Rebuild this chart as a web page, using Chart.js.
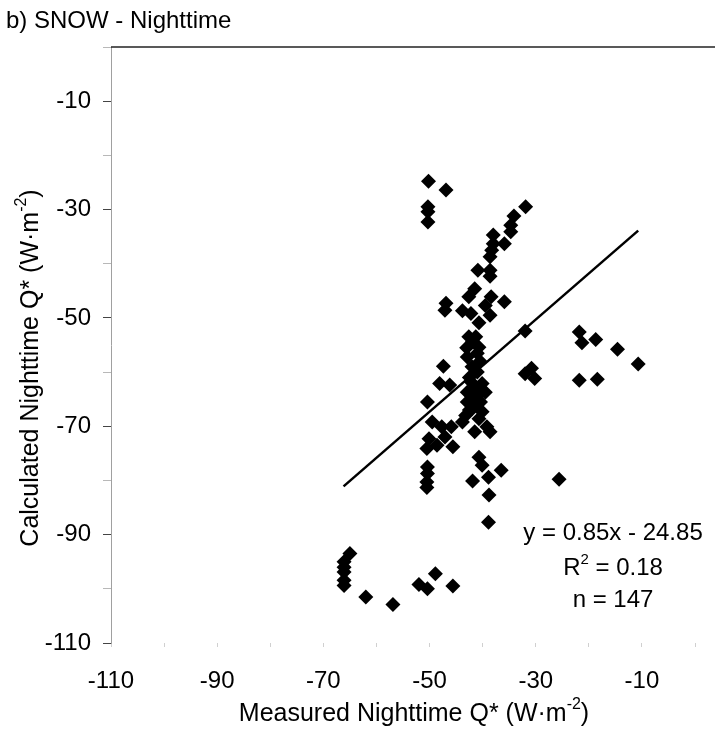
<!DOCTYPE html>
<html>
<head>
<meta charset="utf-8">
<script src="https://cdn.jsdelivr.net/npm/chart.js@4.4.1/dist/chart.umd.min.js"></script>
<style>
  html, body { margin: 0; padding: 0; background: #fff; }
  #wrap { width: 715px; height: 739px; }
</style>
</head>
<body>
<div id="wrap"><canvas id="chart" width="715" height="739"></canvas></div>
<script>
// Measured (x) vs calculated (y) nighttime Q*, W/m2
const measuredX = [
  -50.2, -46.9, -50.3, -50.3, -50.3, -31.9, -34.1, -34.7, -34.7, -38.0,
  -35.9, -38.0, -38.3, -38.6, -40.9, -38.6, -38.6, -41.5, -46.9, -47.1,
  -42.6, -38.4, -35.9, -39.5, -43.8, -42.2, -38.6, -40.7, -42.6, -32.0,
  -41.3,
  -41.9, -40.7, -42.9, -47.4, -30.8, -32.0, -30.2, -48.1, -46.2, -42.2,
  -40.1, -42.9, -40.7, -39.5, -50.4, -42.9, -40.4, -41.9, -40.1, -43.2,
  -40.7, -43.8, -49.5, -47.7, -45.9, -39.2, -41.5, -38.6, -50.1, -47.1,
  -48.6, -45.6, -50.5, -50.4, -50.4, -50.5, -50.5, -40.7, -40.1, -36.5,
  -38.9, -41.9, -38.8, -38.9, -25.6,
  -65.0, -66.1, -66.1, -66.1, -66.1, -66.1, -62.0, -56.9, -52.0, -50.4,
  -48.9, -45.6,
  -21.8, -21.3, -18.7, -14.6, -10.7, -21.8, -18.4,
  -42.0, -41.0, -42.5, -41.5, -42.0, -41.0, -42.5, -40.5, -43.0, -41.0
];
const calculatedY = [
  -24.8, -26.4, -29.5, -30.4, -32.3, -29.5, -31.2, -32.9, -34.1, -34.7,
  -36.3, -36.3, -37.5, -38.7, -41.2, -41.2, -42.3, -44.6, -47.3, -48.6,
  -46.1, -46.1, -47.0, -47.7, -48.7, -49.2, -49.5, -50.9, -53.5, -52.4,
  -53.5,
  -54.4, -55.4, -57.2, -58.9, -59.3, -60.3, -61.2, -62.1, -62.4, -61.8,
  -62.1, -63.7, -64.0, -63.7, -65.5, -65.5, -65.5, -66.7, -67.3, -68.0,
  -68.6, -69.2, -69.2, -70.1, -70.1, -70.1, -71.0, -71.0, -72.3, -72.0,
  -73.5, -73.8, -74.1, -77.5, -78.7, -80.3, -81.3, -75.7, -77.2, -78.1,
  -79.4, -80.1, -82.7, -87.7, -79.8,
  -93.5, -95.0, -96.0, -96.9, -98.4, -99.4, -101.5, -102.9, -99.2, -100.0,
  -97.2, -99.5,
  -52.6, -54.6, -54.0, -55.8, -58.5, -61.5, -61.3,
  -59.0, -60.0, -61.0, -63.0, -64.5, -66.0, -67.0, -58.0, -55.5, -56.5
];

// regression line end points (y = 0.85x - 24.85)
const fitX = [-66.2, -10.7];
const fitY = [-81.1, -33.9];

const xTickLabels = [-110, -90, -70, -50, -30, -10];
const yTickLabels = [-110, -90, -70, -50, -30, -10];
const axisMin = -110, axisMax = 0;

const chartTitle = 'b) SNOW - Nighttime';
const fitLines = [
  [{ t: 'y = 0.85x - 24.85' }],
  [{ t: 'R' }, { t: '2', sup: true }, { t: ' = 0.18' }],
  [{ t: 'n = 147' }]
];
const xTitle = [{ t: 'Measured Nighttime Q* (W·m' }, { t: '-2', sup: true }, { t: ')' }];
const yTitle = [{ t: 'Calculated Nighttime Q* (W·m' }, { t: '-2', sup: true }, { t: ')' }];

const FONT = '"Liberation Sans", Arial, sans-serif';

function richWidth(ctx, segs, size) {
  let w = 0;
  segs.forEach(s => {
    ctx.font = (s.sup ? Math.round(size * 0.62) : size) + 'px ' + FONT;
    w += ctx.measureText(s.t).width;
  });
  return w;
}
function drawRich(ctx, segs, cx, cy, size) {
  let x = cx - richWidth(ctx, segs, size) / 2;
  ctx.textBaseline = 'middle';
  ctx.textAlign = 'left';
  segs.forEach(s => {
    ctx.font = (s.sup ? Math.round(size * 0.62) : size) + 'px ' + FONT;
    ctx.fillText(s.t, x, s.sup ? cy - size * 0.36 : cy);
    x += ctx.measureText(s.t).width;
  });
}

const textPlugin = {
  id: 'texts',
  afterDraw(chart) {
    const ctx = chart.ctx;
    const area = chart.chartArea;
    ctx.save();
    // top frame line
    ctx.strokeStyle = '#222';
    ctx.lineWidth = 1.5;
    ctx.beginPath();
    ctx.moveTo(area.left, area.top);
    ctx.lineTo(chart.width, area.top);
    ctx.stroke();

    ctx.fillStyle = '#000';
    ctx.font = '24px ' + FONT;
    ctx.textBaseline = 'middle';
    ctx.textAlign = 'left';
    ctx.fillText(chartTitle, 6, 21);

    drawRich(ctx, xTitle, 414, 714, 25);

    ctx.save();
    ctx.translate(31, 368);
    ctx.rotate(-Math.PI / 2);
    drawRich(ctx, yTitle, 0, 0, 25);
    ctx.restore();

    const ys = [533, 568, 600];
    fitLines.forEach((segs, i) => drawRich(ctx, segs, 613, ys[i], 24));
    ctx.restore();
  }
};

const points = measuredX.map((x, i) => ({ x: x, y: calculatedY[i] }));
const fitPoints = fitX.map((x, i) => ({ x: x, y: fitY[i] }));

new Chart(document.getElementById('chart'), {
  type: 'scatter',
  data: {
    datasets: [
      {
        type: 'line',
        label: 'fit',
        data: fitPoints,
        borderColor: '#000',
        borderWidth: 2.5,
        pointRadius: 0,
        fill: false,
        order: 2
      },
      {
        label: 'obs',
        data: points,
        pointStyle: 'rectRot',
        pointRadius: 7.5,
        backgroundColor: '#000',
        borderColor: '#000',
        borderWidth: 0,
        order: 1
      }
    ]
  },
  options: {
    responsive: false,
    animation: false,
    layout: { padding: { top: 47, right: -3, left: 0, bottom: 0 } },
    plugins: {
      legend: { display: false },
      tooltip: { enabled: false }
    },
    scales: {
      x: {
        type: 'linear',
        min: axisMin,
        max: axisMax,
        afterFit: s => { s.height = 96; },
        border: { display: false },
        grid: { drawOnChartArea: false, tickLength: 4, tickColor: '#d0d0d0' },
        ticks: {
          stepSize: 10,
          padding: 20,
          color: '#000',
          maxRotation: 0,
          autoSkip: false,
          font: { size: 24, family: FONT },
          callback: v => xTickLabels.includes(v) ? String(v) : ''
        }
      },
      y: {
        type: 'linear',
        min: axisMin,
        max: axisMax,
        afterFit: s => { s.width = 111; },
        border: { display: true, color: '#a0a0a0', dash: [3, 3], width: 1 },
        grid: {
          drawOnChartArea: false,
          tickLength: 8,
          tickColor: c => yTickLabels.includes(c.tick.value) ? '#444' : '#b8b8b8'
        },
        ticks: {
          stepSize: 10,
          padding: 12,
          color: '#000',
          autoSkip: false,
          font: { size: 24, family: FONT },
          callback: v => yTickLabels.includes(v) ? String(v) : ''
        }
      }
    }
  },
  plugins: [textPlugin]
});
</script>
</body>
</html>
